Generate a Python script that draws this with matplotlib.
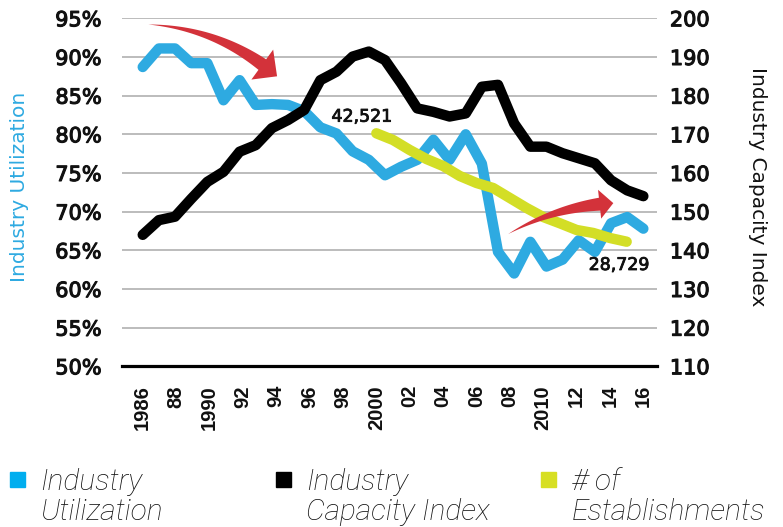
import numpy as np
import matplotlib
matplotlib.use("Agg")
import matplotlib.pyplot as plt
import matplotlib.patheffects as pe
from matplotlib.patches import Rectangle, Polygon
from matplotlib.transforms import IdentityTransform

# ---------------- data ----------------
first_year, last_year = 1986, 2016
utilization = [88.7, 91.1, 91.1, 89.2, 89.2, 84.4, 87.0, 83.8, 83.9, 83.8,
               83.0, 80.9, 80.1, 77.8, 76.7, 74.7, 75.8, 76.7, 79.3, 76.7,
               80.0, 76.2, 64.8, 62.0, 66.1, 62.9, 63.8, 66.3, 64.8, 68.5,
               69.3, 67.8]
capacity = [144.0, 147.8, 148.7, 153.3, 157.7, 160.3, 165.5, 167.2, 171.6, 173.7,
            176.3, 184.0, 186.2, 190.1, 191.4, 189.2, 183.2, 176.7, 175.8, 174.6,
            175.4, 182.3, 182.8, 172.8, 166.8, 166.8, 165.1, 163.8, 162.5, 158.1,
            155.5, 154.0]
est_years = list(range(2000, 2016))
establishments = [42521, 41670, 40400, 39250, 38360, 37090, 36200, 35560,
                  34290, 33020, 31870, 31070, 30220, 29840, 29200, 28729]
tick_years = list(range(1986, 2017, 2))
tick_labels = ["1986", "88", "1990", "92", "94", "96", "98", "2000",
               "02", "04", "06", "08", "2010", "12", "14", "16"]
left_ticks = [50, 55, 60, 65, 70, 75, 80, 85, 90, 95]
right_ticks = [110, 120, 130, 140, 150, 160, 170, 180, 190, 200]
legend_labels = ["Industry\nUtilization", "Industry\nCapacity Index", "# of\nEstablishments"]

BLUE = "#2eaae1"
BLACK = "#000000"
YELLOW = "#d3de26"
RED = "#d3323a"
TXT = "#111111"

W, H = 783, 527
fig = plt.figure(figsize=(W / 100, H / 100), dpi=100)


def fx(px):
    return px / W


def fy(py):
    return 1 - py / H


ax_l, ax_r, ax_t, ax_b = 121.7, 656.7, 18.3, 366.3
rect = [fx(ax_l), fy(ax_b), fx(ax_r) - fx(ax_l), fy(ax_t) - fy(ax_b)]

ax = fig.add_axes(rect, zorder=1)
ax2 = fig.add_axes(rect, zorder=3, sharex=ax)
ax3 = fig.add_axes(rect, zorder=2, sharex=ax)
for a in (ax, ax2, ax3):
    a.patch.set_visible(False)
    for s in a.spines.values():
        s.set_visible(False)

x_main = np.linspace(first_year, last_year, len(utilization))

line_kw = dict(lw=7.5, solid_joinstyle="round", solid_capstyle="round")
ax.plot(x_main, utilization, color=BLUE, **line_kw)
ax2.plot(x_main, capacity, color=BLACK, **line_kw)
ax3.plot(est_years, establishments, color=YELLOW, **line_kw)

ax.set_xlim(1984.74, 2016.80)
ax.set_ylim(50, 95)
ax2.set_ylim(110, 200)
ax3.set_ylim(12877, 57152)

# grid
for v in left_ticks[1:]:
    ax.axhline(v, color="#a9a9a9", lw=1.1, zorder=0)
ax.axhline(50, color="black", lw=2.3, zorder=0, clip_on=False)

medium = [pe.withStroke(linewidth=0.8, foreground=TXT)]
ax.set_yticks(left_ticks)
ax.set_yticklabels([f"{v}%" for v in left_ticks], family="DejaVu Sans")
ax.tick_params(axis="y", length=0, pad=14.5, labelsize=15, labelcolor=TXT)
ax2.set_yticks(right_ticks)
ax2.set_yticklabels([str(v) for v in right_ticks], family="DejaVu Sans")
ax2.tick_params(axis="y", length=0, pad=9.5, labelsize=15, labelcolor=TXT,
                left=False, labelleft=False, right=True, labelright=True)
for lab in ax.get_yticklabels() + ax2.get_yticklabels():
    lab.set_path_effects(medium)
ax3.set_yticks([])
ax2.tick_params(axis="x", bottom=False, labelbottom=False)
ax3.tick_params(axis="x", bottom=False, labelbottom=False)

ax.set_xticks(tick_years)
ax.set_xticklabels(tick_labels, rotation=90, va="top", ha="center",
                   family="Liberation Sans", weight="bold", fontsize=14.5)
ax.tick_params(axis="x", length=0, pad=13.5, labelcolor=TXT)

# axis titles
fig.text(fx(20), fy(186.7), "Industry Utilization", rotation=90, color=BLUE,
         fontsize=14.5, ha="center", va="center")
fig.text(fx(757.5), fy(186.7), "Industry Capacity Index", rotation=-90,
         color=TXT, fontsize=14.5, ha="center", va="center")

# value annotations
for xx, yy, val in ((1999.12, 82.28, establishments[0]),
                    (2014.54, 63.1, establishments[-1])):
    ax.text(xx, yy, f"{val:,}", fontsize=12.5, ha="center", va="center",
            color=TXT, path_effects=[pe.withStroke(linewidth=0.6, foreground=TXT)])


# red tapered curved arrows
def tapered_arrow(p_start, p_tip, bend, tail_w, head_w, head_len, color):
    P0 = ax.transData.transform(p_start)
    P1 = ax.transData.transform(p_tip)
    d = P1 - P0
    C = (P0 + P1) / 2 + bend * np.array([-d[1], d[0]])
    t = np.linspace(0, 1, 400)[:, None]
    B = (1 - t) ** 2 * P0 + 2 * (1 - t) * t * C + t ** 2 * P1
    seg = np.hypot(*np.diff(B, axis=0).T)
    s = np.concatenate([[0], np.cumsum(seg)])
    idx = int(np.searchsorted(s, s[-1] - head_len))
    tail = B[: idx + 1]
    tang = np.gradient(tail, axis=0)
    tang /= np.hypot(tang[:, 0], tang[:, 1])[:, None]
    normal = np.column_stack([-tang[:, 1], tang[:, 0]])
    w = (s[: idx + 1] / s[idx]) * tail_w / 2
    upper = tail + normal * w[:, None]
    lower = tail - normal * w[:, None]
    base = tail[-1]
    nb = normal[-1]
    head = [base + nb * head_w / 2, P1, base - nb * head_w / 2]
    pts = np.vstack([upper, head, lower[::-1]])
    fig.add_artist(Polygon(pts, closed=True, color=color, lw=0,
                           transform=IdentityTransform(), zorder=10))


tapered_arrow((1986.34, 94.2), (1994.05, 87.5), 0.17, 13, 37, 19, RED)
tapered_arrow((2007.9, 67.1), (2014.2, 71.1), 0.12, 13, 29, 14, RED)

# legend
legend_colors = ["#00aeef", BLACK, "#d7df23"]
sq_x = [10, 276, 541]
txt_x = [40, 306, 572]
for c, sx, tx, lab in zip(legend_colors, sq_x, txt_x, legend_labels):
    fig.add_artist(Rectangle((fx(sx), fy(487)), fx(15), 15 / H, color=c,
                             transform=fig.transFigure))
    l1, l2 = lab.split("\n")
    for txt, yy in ((l1, 490), (l2, 520)):
        fig.text(fx(tx), fy(yy), txt, fontsize=21.5, style="italic",
                 fontweight="light", family="Roboto", va="baseline",
                 ha="left", color=TXT)

fig.savefig("out.png", dpi=100)
